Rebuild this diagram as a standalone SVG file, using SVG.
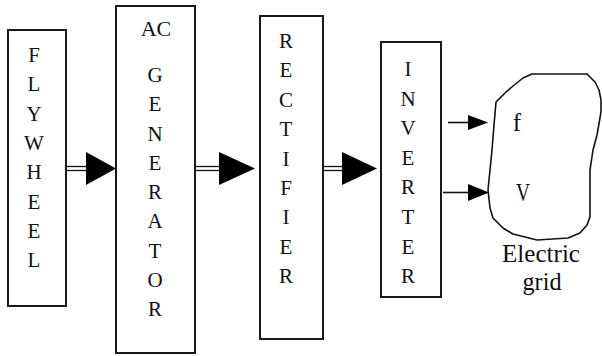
<svg xmlns="http://www.w3.org/2000/svg" width="602" height="356" viewBox="0 0 602 356">
<style>
.box{fill:#fff;stroke:#1a1a1a;stroke-width:2}
.lbl{font-family:'Liberation Serif','DejaVu Serif','Times New Roman',serif;font-size:21px;fill:#111;text-anchor:middle}
.big{font-family:'Liberation Serif','DejaVu Serif','Times New Roman',serif;font-size:25px;fill:#111;text-anchor:middle}
.shaft{stroke:#111;stroke-width:1.3;fill:none}
.head{fill:#000;stroke:none}
.line{stroke:#111;stroke-width:1.6;fill:none}
.blob{fill:none;stroke:#111;stroke-width:1.6;stroke-linejoin:round}
</style>
<rect width="602" height="356" fill="#fff"/>
<g id="flywheel">
<rect class="box" x="8" y="30" width="58" height="276"/>
<text class="lbl"><tspan x="34" y="62">F</tspan><tspan x="34" y="91.3">L</tspan><tspan x="34" y="120.6">Y</tspan><tspan x="34" y="149.9">W</tspan><tspan x="34" y="179.2">H</tspan><tspan x="34" y="208.5">E</tspan><tspan x="34" y="237.8">E</tspan><tspan x="34" y="267.1">L</tspan></text>
</g>
<g id="ac-generator">
<rect class="box" x="116" y="6" width="79" height="347"/>
<text class="lbl" style="font-size:22px"><tspan x="156" y="36">AC</tspan></text>
<text class="lbl"><tspan x="155" y="82">G</tspan><tspan x="155" y="111.25">E</tspan><tspan x="155" y="140.5">N</tspan><tspan x="155" y="169.75">E</tspan><tspan x="155" y="199">R</tspan><tspan x="155" y="228.25">A</tspan><tspan x="155" y="257.5">T</tspan><tspan x="155" y="286.75">O</tspan><tspan x="155" y="316">R</tspan></text>
</g>
<g id="rectifier">
<rect class="box" x="260" y="16" width="63" height="323"/>
<text class="lbl"><tspan x="286" y="48">R</tspan><tspan x="286" y="77.4">E</tspan><tspan x="286" y="106.8">C</tspan><tspan x="286" y="136.2">T</tspan><tspan x="286" y="165.6">I</tspan><tspan x="286" y="195">F</tspan><tspan x="286" y="224.4">I</tspan><tspan x="286" y="253.8">E</tspan><tspan x="286" y="283.2">R</tspan></text>
</g>
<g id="inverter">
<rect class="box" x="381" y="42" width="60" height="255"/>
<text class="lbl"><tspan x="408" y="76">I</tspan><tspan x="408" y="105.6">N</tspan><tspan x="408" y="135.2">V</tspan><tspan x="408" y="164.8">E</tspan><tspan x="408" y="194.4">R</tspan><tspan x="408" y="224">T</tspan><tspan x="408" y="253.6">E</tspan><tspan x="408" y="283.2">R</tspan></text>
</g>
<g id="electric-grid">
<path class="blob" d="M496,102 L505,93 L513,86 L523,78 L532,74 L587,74 L595,82 L599,90 L601,100 L601,112 L597,135 L593,150 L590,170 L590,217 L587,225 L580,233 L568,238 L537,240 L513,234 L503,228 L493,218 L490,208 L488,190 L490,170 L492,150 L494,125 Z"/>
<text class="big" x="517" y="131">f</text>
<text class="big" x="523" y="201" textLength="14" lengthAdjust="spacingAndGlyphs">V</text>
<text class="big" x="541" y="262" textLength="78" lengthAdjust="spacingAndGlyphs">Electric</text>
<text class="big" x="542" y="290" textLength="39" lengthAdjust="spacingAndGlyphs">grid</text>
</g>
<g id="connectors">
<line class="shaft" x1="66" y1="166.5" x2="87" y2="166.5"/>
<line class="shaft" x1="66" y1="170.5" x2="87" y2="170.5"/>
<polygon class="head" points="86,152 116,168.5 86,185"/>
<line class="shaft" x1="195" y1="166.5" x2="220" y2="166.5"/>
<line class="shaft" x1="195" y1="170.5" x2="220" y2="170.5"/>
<polygon class="head" points="219,152 255,168.5 219,185"/>
<line class="shaft" x1="323" y1="166.5" x2="343" y2="166.5"/>
<line class="shaft" x1="323" y1="170.5" x2="343" y2="170.5"/>
<polygon class="head" points="342,152 377,168.5 342,185"/>
<line class="line" x1="448" y1="122.5" x2="470" y2="122.5"/>
<polygon class="head" points="468,115 488,122.5 468,130"/>
<line class="line" x1="443" y1="192.5" x2="470" y2="192.5"/>
<polygon class="head" points="468,184 489,192.5 468,201"/>
</g>
</svg>
